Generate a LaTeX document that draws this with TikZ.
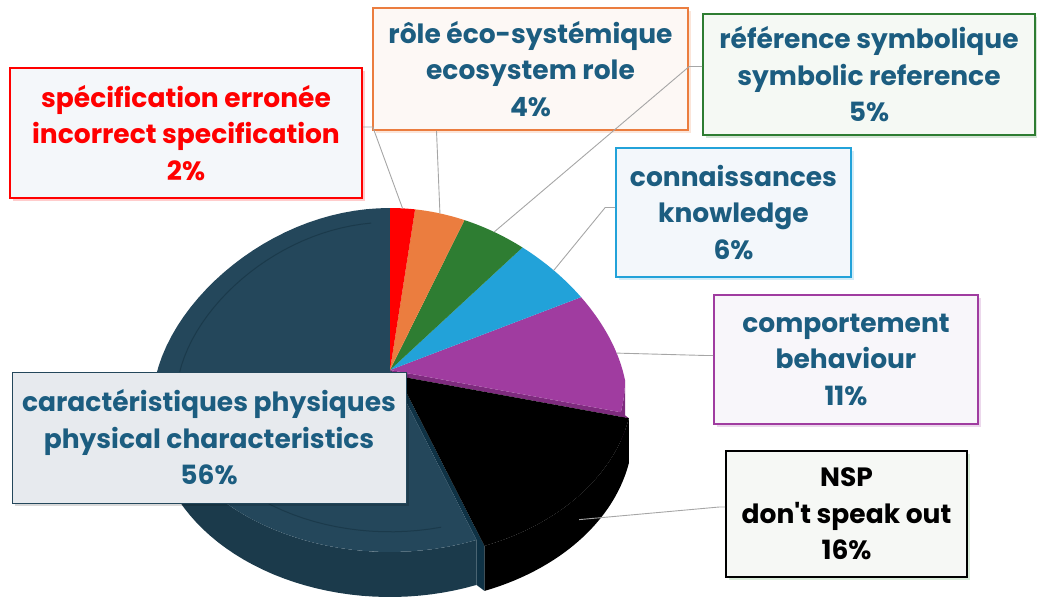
\documentclass[tikz,border=0pt]{standalone}
\usepackage{fontspec}
\setmainfont{Poppins}[Ligatures=TeXOff]
\usetikzlibrary{shadows}

\definecolor{txtblue}{HTML}{1C5D80}
\definecolor{pdark}{HTML}{24475B}
\definecolor{pdarkside}{HTML}{1B3A4B}
\definecolor{pdarkcut}{HTML}{0F3245}
\definecolor{porange}{HTML}{EB7D3F}
\definecolor{pgreen}{HTML}{2E7D32}
\definecolor{pblue}{HTML}{22A2D9}
\definecolor{ppurple}{HTML}{A03CA0}
\definecolor{ppurpleside}{HTML}{7E2B7E}
\definecolor{leadgray}{HTML}{A6A6A6}
\definecolor{fillred}{HTML}{F4F7FA}
\definecolor{fillorange}{HTML}{FDF8F5}
\definecolor{fillgreen}{HTML}{F5F9F4}
\definecolor{fillblue}{HTML}{F3F7FB}
\definecolor{fillpurple}{HTML}{F8F6FA}
\definecolor{fillblack}{HTML}{F6F8F5}
\definecolor{filldark}{HTML}{E7EAEE}

\pgfmathdeclarefunction{rimx}{1}{\pgfmathparse{390+235*cos(#1)*(1-0.15*max(sin(#1),0))}}
\pgfmathdeclarefunction{rimy}{1}{\pgfmathparse{380-172*sin(#1)}}

\tikzset{
  lbl/.style={draw, line width=1.6pt, align=center, inner sep=0pt,
    font=\bfseries\fontsize{26.5}{36.5}\selectfont},
  lead/.style={draw=leadgray, line width=0.9pt},
}

\begin{document}
\begin{tikzpicture}[x=1pt, y=-1pt]
  \useasboundingbox (0,0) rectangle (1037,598);

  % side wall and cut faces
  \fill[pdarkside] plot[domain=180:291.6, samples=40] ({rimx(\x)},{rimy(\x)})
    -- plot[domain=291.6:180, samples=40] ({rimx(\x)},{rimy(\x)+45}) -- cycle;
  \fill[pdarkcut] (390,370) -- (398,376) -- ({rimx(-68.4)+8},{rimy(-68.4)+6}) -- ({rimx(-68.4)+8},{rimy(-68.4)+51})
    -- ({rimx(-68.4)},{rimy(-68.4)+45}) -- ({rimx(-68.4)},{rimy(-68.4)}) -- cycle;
  \fill[pdark] (390,370) -- plot[domain=90:291.6, samples=60] ({rimx(\x)},{rimy(\x)}) -- cycle;
  \draw[pdarkside, line width=1pt] plot[domain=96:284, samples=60] ({390+0.9*(rimx(\x)-390)},{377+0.9*(rimy(\x)-380)});

  \fill[ppurpleside] plot[domain=-10.8:0, samples=10] ({rimx(\x)},{rimy(\x)})
    -- plot[domain=0:-10.8, samples=10] ({rimx(\x)},{rimy(\x)+45}) -- cycle;
  \fill[ppurpleside] (390,370) -- ({rimx(-10.8)},{rimy(-10.8)}) -- ({rimx(-10.8)+8},{rimy(-10.8)+6}) -- (398,376) -- cycle;

  \begin{scope}[shift={(8,6)}]
    \fill[black] plot[domain=-68.4:-10.8, samples=30] ({rimx(\x)},{rimy(\x)})
      -- plot[domain=-10.8:-68.4, samples=30] ({rimx(\x)},{rimy(\x)+45}) -- cycle;
    \fill[black] (390,370) -- plot[domain=-68.4:-10.8, samples=30] ({rimx(\x)},{rimy(\x)}) -- cycle;
  \end{scope}

  \fill[ppurple] (390,370) -- plot[domain=-10.8:28.8, samples=30] ({rimx(\x)},{rimy(\x)}) -- cycle;
  \fill[pblue] (390,370) -- plot[domain=28.8:50.4, samples=20] ({rimx(\x)},{rimy(\x)}) -- cycle;
  \fill[pgreen] (390,370) -- plot[domain=50.4:68.4, samples=20] ({rimx(\x)},{rimy(\x)}) -- cycle;
  \fill[porange] (390,370) -- plot[domain=68.4:82.8, samples=20] ({rimx(\x)},{rimy(\x)}) -- cycle;
  \fill[red] (390,370) -- plot[domain=82.8:90, samples=10] ({rimx(\x)},{rimy(\x)}) -- cycle;

  \coordinate (redtip) at ({rimx(86.4)},{rimy(86.4)});
  \coordinate (orangetip) at ({rimx(75.6)},{rimy(75.6)});
  \coordinate (greentip) at ({rimx(59.4)},{rimy(59.4)});
  \coordinate (bluetip) at ({rimx(39.6)},{rimy(39.6)});
  \coordinate (purpletip) at ({rimx(9)},{rimy(9)});
  \coordinate (blacktip) at ({rimx(-39.6)+8},{rimy(-39.6)+30});

  % labels
  \node (spec) [lbl, draw=red, text=red, fill=fillred,
    minimum width=352pt, minimum height=130pt,
    drop shadow={shadow xshift=3pt, shadow yshift=-3pt, fill=red, opacity=.2}]
    at (186,133) {spécification erronée\\incorrect specification\\2\%};
  \node (eco) [lbl, draw=porange, text=txtblue, fill=fillorange,
    minimum width=315pt, minimum height=122pt,
    drop shadow={shadow xshift=3pt, shadow yshift=-3pt, fill=porange, opacity=.2}]
    at (530.5,69) {rôle éco-systémique\\ecosystem role\\4\%};
  \node (symb) [lbl, draw=pgreen, text=txtblue, fill=fillgreen,
    minimum width=332pt, minimum height=121pt,
    drop shadow={shadow xshift=3pt, shadow yshift=-3pt, fill=pgreen, opacity=.2}]
    at (869,74.5) {référence symbolique\\symbolic reference\\5\%};
  \node (know) [lbl, draw=pblue, text=txtblue, fill=fillblue,
    minimum width=235pt, minimum height=129pt,
    drop shadow={shadow xshift=3pt, shadow yshift=-3pt, fill=pblue, opacity=.2}]
    at (733.5,212.5) {connaissances\\knowledge\\6\%};
  \node (behav) [lbl, draw=ppurple, text=txtblue, fill=fillpurple,
    minimum width=264pt, minimum height=129pt,
    drop shadow={shadow xshift=3pt, shadow yshift=-3pt, fill=ppurple, opacity=.2}]
    at (846,359.5) {comportement\\behaviour\\11\%};
  \node (nsp) [lbl, draw=black, text=black, fill=fillblack,
    minimum width=241pt, minimum height=126pt,
    drop shadow={shadow xshift=3pt, shadow yshift=-3pt, fill=green!50!black, opacity=.15}]
    at (846.5,514) {NSP\\don't speak out\\16\%};
  \node (phys) [lbl, draw=pdark, line width=1pt, text=txtblue, fill=filldark,
    minimum width=394pt, minimum height=131pt,
    drop shadow={shadow xshift=3pt, shadow yshift=-3pt, fill=black, opacity=.15}]
    at (209,437.5) {caractéristiques physiques\\physical characteristics\\56\%};

  % leader lines
  \draw[lead] ([yshift=6pt]spec.east) -- ++(10,0) -- (redtip);
  \draw[lead] ([xshift=-94pt]eco.south) -- (orangetip);
  \draw[lead] ([yshift=8pt]symb.west) -- ++(-13,0) -- (greentip);
  \draw[lead] ([yshift=5pt]know.west) -- ++(-10,0) -- (bluetip);
  \draw[lead] ([yshift=4pt]behav.west) -- ++(-7,0) -- (purpletip);
  \draw[lead] ([yshift=7pt]nsp.west) -- ++(-6,0) -- (blacktip);
\end{tikzpicture}
\end{document}
